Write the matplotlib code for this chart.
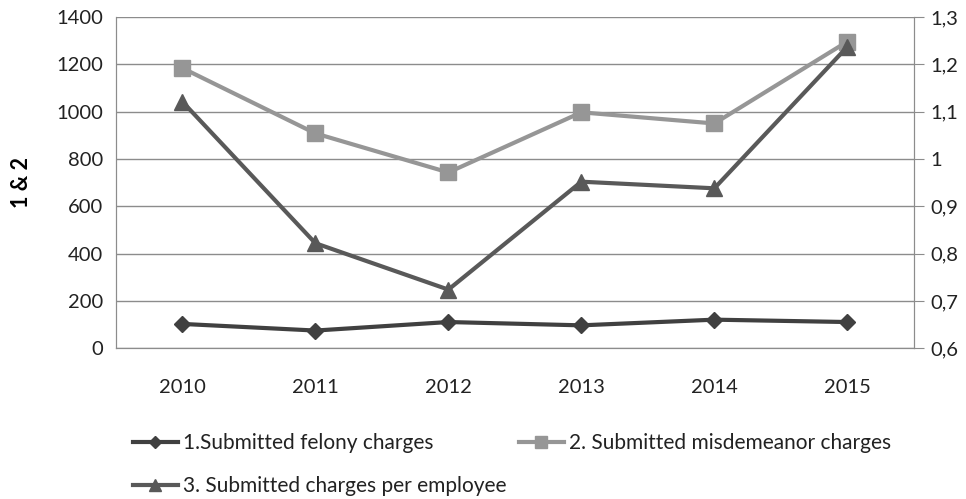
import matplotlib.pyplot as plt
from matplotlib.ticker import FuncFormatter

plt.rcParams['font.family'] = ['Lato', 'DejaVu Sans']

years = ["2010", "2011", "2012", "2013", "2014", "2015"]
felony = [103, 75, 111, 97, 121, 111]
misdemeanor = [1184, 908, 743, 997, 950, 1296]
per_employee = [1.121, 0.822, 0.724, 0.952, 0.938, 1.237]

labels = ["1.Submitted felony charges",
          "2. Submitted misdemeanor charges",
          "3. Submitted charges per employee"]

fig = plt.figure(figsize=(9.66, 4.99), dpi=100)
ax = fig.add_axes([0.120, 0.302, 0.826, 0.664])
ax2 = ax.twinx()

x = range(len(years))
grid_col = "#8c8c8c"

l1, = ax.plot(x, felony, color="#404040", lw=3, marker="D", ms=8, label=labels[0], zorder=4)
l2, = ax.plot(x, misdemeanor, color="#969696", lw=3, marker="s", ms=11, label=labels[1], zorder=3)
l3, = ax2.plot(x, per_employee, color="#595959", lw=3, marker="^", ms=11, label=labels[2], zorder=4)

ax.set_xlim(-0.5, 5.5)
ax.set_ylim(0, 1400)
ax.set_yticks(range(0, 1401, 200))
ax2.set_ylim(0.6, 1.3)
ax2.set_yticks([0.6, 0.7, 0.8, 0.9, 1.0, 1.1, 1.2, 1.3])
ax2.yaxis.set_major_formatter(FuncFormatter(lambda v, p: ("%g" % round(v, 1)).replace(".", ",")))

ax.set_xticks(list(x))
ax.set_xticklabels(years)
ax.yaxis.grid(True, color=grid_col, lw=1)
ax.set_axisbelow(True)

for a in (ax, ax2):
    for s in a.spines.values():
        s.set_color(grid_col)
    a.spines['top'].set_visible(False)
ax.tick_params(axis="both", length=0, labelsize=14.5, colors="#222222", pad=9)
ax.tick_params(axis="x", pad=22)
ax2.tick_params(axis="y", length=7, color=grid_col, labelsize=14.5, labelcolor="#222222", pad=5)

ax.set_ylabel("1 & 2", fontsize=15.5, fontweight="bold", labelpad=18)

# legend rows: 1 and 2 on top, 3 below
leg = fig.legend([l1, l3, l2], [labels[0], labels[2], labels[1]], ncol=2,
                 loc="lower left", bbox_to_anchor=(0.118, -0.032), frameon=False,
                 fontsize=15, handlelength=2.15, columnspacing=0.6, labelspacing=1.1,
                 handletextpad=0.25, markerscale=0.75)
for t in leg.get_texts():
    t.set_color("#222222")

fig.savefig("out.png", dpi=100)
